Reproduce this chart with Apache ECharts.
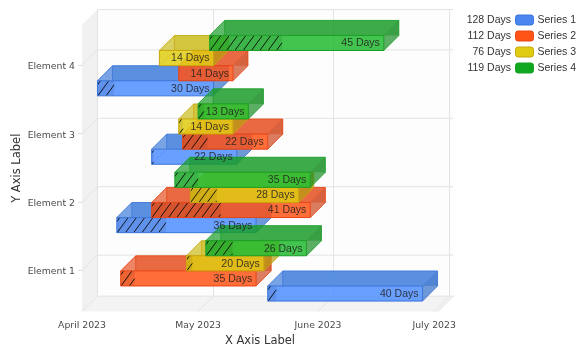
<!DOCTYPE html>
<html>
<head>
<meta charset="utf-8">
<style>
  html, body { margin: 0; padding: 0; background: #fff; }
  #chart { width: 586px; height: 352px; }
</style>
<script src="https://cdn.jsdelivr.net/npm/echarts@6/dist/echarts.min.js"></script>
</head>
<body>
<div id="chart"></div>
<script>
var categories = ['Element 1', 'Element 2', 'Element 3', 'Element 4']
var monthTicks = ['2023-04-01', '2023-05-01', '2023-06-01', '2023-07-01']
var monthLabels = ['April 2023', 'May 2023', 'June 2023', 'July 2023']
var seriesNames = ['Series 1', 'Series 2', 'Series 3', 'Series 4']

// start date, length in days and hatched (done) days per element
var series1Start = ['2023-05-19', '2023-04-10', '2023-04-19', '2023-04-05']
var series1Days = [40, 36, 22, 30]
var series1Done = [2.2, 12.7, 0.5, 4.3]

var series2Start = ['2023-04-11', '2023-04-19', '2023-04-27', '2023-04-26']
var series2Days = [35, 41, 22, 14]
var series2Done = [3.6, 17.8, 6.4, 0]

var series3Start = ['2023-04-28', '2023-04-29', '2023-04-26', '2023-04-21']
var series3Days = [20, 28, 14, 14]
var series3Done = [1.5, 6.8, 1.1, 0]

var series4Start = ['2023-05-03', '2023-04-25', '2023-05-01', '2023-05-04']
var series4Days = [26, 35, 13, 45]
var series4Done = [6.9, 6, 1.5, 18.7]

var starts = [series1Start, series2Start, series3Start, series4Start]
var lengths = [series1Days, series2Days, series3Days, series4Days]
var dones = [series1Done, series2Done, series3Done, series4Done]

var legendColors = ['#4a85f0', '#ff5416', '#e0cc12', '#10a81e']
var frontColors = ['#4f8eff', '#ff5416', '#e0cc12', '#22ba30']
var topColors = ['#3f7ddb', '#e65021', '#cbbc1c', '#1b9c2a']
var sideColors = ['#306ec8', '#ca461c', '#b5a010', '#188c24']
var edgeColors = ['#3a74d8', '#e84414', '#c9a80e', '#1a9e28']

var DAY = 86400000
var WALL_DEPTH = 15.4
var BAR_DEPTH = 15
var BAR_STEP = 0.2208

function toTime(s) {
  var p = s.split('-')
  return new Date(+p[0], +p[1] - 1, +p[2]).getTime()
}

var xMin = toTime('2023-04-01')
var xMax = toTime('2023-07-02')
var yMin = -0.599
var yMax = 3.589
var tickTimes = monthTicks.map(toTime)

function line(x1, y1, x2, y2, color, width, opacity) {
  return {
    type: 'line',
    shape: { x1: x1, y1: y1, x2: x2, y2: y2 },
    style: { stroke: color, lineWidth: width || 1, opacity: opacity === undefined ? 1 : opacity }
  }
}

function poly(points, fill, opacity) {
  return {
    type: 'polygon',
    shape: { points: points },
    style: { fill: fill, opacity: opacity === undefined ? 1 : opacity }
  }
}

function barMid(el, s) {
  return el - 0.005 + (s - 1.5) * BAR_STEP
}

// the two walls and the floor, everything is hung on the front plane of the grid
function renderFrame(params, api) {
  var d = WALL_DEPTH
  var bl = api.coord([xMin, yMin])
  var tr = api.coord([xMax, yMax])
  var left = bl[0]
  var right = tr[0]
  var bottom = bl[1]
  var top = tr[1]
  var gridColor = '#e3e3e3'
  var children = [
    {
      type: 'rect',
      shape: { x: left + d, y: top - d, width: right - left, height: bottom - top },
      style: { fill: '#fdfdfd' }
    },
    poly([[left, top], [left + d, top - d], [left + d, bottom - d], [left, bottom]], '#f1f1f1'),
    poly([[left, bottom], [left + d, bottom - d], [right + d, bottom - d], [right, bottom]], '#f3f3f3'),
    line(left + d, top - d, right + d, top - d, gridColor),
    line(left + d, bottom - d, right + d, bottom - d, gridColor),
    line(right, bottom, right + d, bottom - d, gridColor)
  ]
  tickTimes.forEach(function(t) {
    var x = api.coord([t, 0])[0]
    children.push(line(x + d, top - d, x + d, bottom - d, gridColor))
    children.push(line(x, bottom, x + d, bottom - d, gridColor))
  })
  categories.forEach(function(c, i) {
    var y = api.coord([xMin, i])[1]
    children.push(line(left + d, y - d, right + d, y - d, gridColor))
    children.push(line(left, y, left + d, y - d, gridColor))
  })
  return { type: 'group', children: children }
}

// one 3d box per data row: back face, top, side, front and hatch
function renderBar(params, api) {
  var s = params.seriesIndex - 1
  var mid = barMid(api.value(0), s)
  var p0 = api.coord([api.value(1), mid + BAR_STEP / 2])
  var p1 = api.coord([api.value(2), mid - BAR_STEP / 2])
  var pd = api.coord([api.value(3), mid])
  var x = p0[0]
  var y = p0[1]
  var w = p1[0] - p0[0]
  var h = p1[1] - p0[1]
  var d = BAR_DEPTH
  var edge = edgeColors[s]
  var hatchEnd = pd[0]

  var children = [
    {
      type: 'rect',
      shape: { x: x + d, y: y - d, width: w, height: h },
      style: { fill: topColors[s], opacity: 0.5 }
    },
    poly([[x, y], [x + d, y - d], [x + w + d, y - d], [x + w, y]], topColors[s], 0.7),
    poly([[x + w, y], [x + w + d, y - d], [x + w + d, y + h - d], [x + w, y + h]], sideColors[s], 0.7),
    {
      type: 'polyline',
      shape: { points: [[x, y], [x + d, y - d], [x + w + d, y - d], [x + w + d, y + h - d], [x + w, y + h]] },
      style: { fill: 'none', stroke: edge, lineWidth: 1, opacity: 0.85 }
    },
    line(x + w, y, x + w + d, y - d, edge, 1, 0.5),
    line(x + d, y - d, x + d, y, edge, 1, 0.7),
    {
      type: 'rect',
      shape: { x: x, y: y, width: w, height: h },
      style: { fill: frontColors[s], opacity: 0.85 }
    },
    line(x, y + h, x + d, y + h - d, edge, 1, 0.25)
  ]

  if (hatchEnd > x + 0.5) {
    children.push({
      type: 'rect',
      shape: { x: x, y: y, width: hatchEnd - x, height: h },
      style: { fill: '#000', opacity: 0.08 }
    })
    // diagonal strokes cut by hand to the done part of the front face
    var slope = 11
    for (var b = x - slope + 3; b < hatchEnd; b += 8.3) {
      var ax = b
      var ay = y + h
      var bx = b + slope
      var by = y
      if (ax < x) {
        ay = y + h - (x - ax) / slope * h
        ax = x
      }
      if (bx > hatchEnd) {
        by = y + (bx - hatchEnd) / slope * h
        bx = hatchEnd
      }
      children.push(line(ax, ay, bx, by, '#000', 1, 0.85))
    }
  }

  children.push({
    type: 'rect',
    shape: { x: x, y: y, width: w, height: h },
    style: { fill: 'none', stroke: edge, lineWidth: 1 }
  })
  return { type: 'group', children: children }
}

// labels sit above every box, so they get their own series
function renderLabel(params, api) {
  var p = api.coord([api.value(2), barMid(api.value(0), api.value(1))])
  return {
    type: 'text',
    style: {
      x: p[0] - 4,
      y: p[1] + 0.5,
      text: api.value(3) + ' Days',
      align: 'right',
      verticalAlign: 'middle',
      fill: '#222',
      opacity: 0.85,
      font: '10.5px "Liberation Sans"'
    }
  }
}

var chartSeries = [{
  type: 'custom',
  silent: true,
  clip: false,
  z: 1,
  renderItem: renderFrame,
  encode: { x: 0, y: 1 },
  data: [[xMin, 0]]
}]

var labelRows = []
seriesNames.forEach(function(name, s) {
  chartSeries.push({
    name: name,
    type: 'custom',
    silent: true,
    clip: false,
    z: 2 + s,
    renderItem: renderBar,
    encode: { x: [1, 2], y: 0 },
    itemStyle: { color: legendColors[s] },
    data: categories.map(function(c, i) {
      var t = toTime(starts[s][i])
      var end = t + lengths[s][i] * DAY
      labelRows.push([i, s, end, lengths[s][i]])
      return [i, t, end, t + dones[s][i] * DAY]
    })
  })
})

chartSeries.push({
  type: 'custom',
  silent: true,
  clip: false,
  z: 10,
  renderItem: renderLabel,
  encode: { x: 2, y: 0 },
  data: labelRows
})

var totalTexts = seriesNames.map(function(name, s) {
  var total = lengths[s].reduce(function(a, b) { return a + b }, 0)
  return {
    type: 'text',
    right: 586 - 511,
    top: 15 + s * 16,
    style: { text: total + ' Days', fill: '#333', font: '10.5px "Liberation Sans"' }
  }
})

var chart = echarts.init(document.getElementById('chart'), null, { renderer: 'canvas' })
chart.setOption({
  animation: false,
  textStyle: { fontFamily: 'Noto Sans' },
  grid: { left: 82, right: 148, top: 25, bottom: 40.5, containLabel: false, outerBoundsMode: 'none' },
  legend: {
    orient: 'vertical',
    left: 510,
    top: 9.5,
    itemWidth: 18,
    itemHeight: 10,
    itemGap: 5,
    icon: 'roundRect',
    selectedMode: false,
    textStyle: { fontFamily: 'Liberation Sans', fontSize: 10.5, color: '#333', padding: [0, 0, 0, -1] },
    data: seriesNames.map(function(name, s) {
      return { name: name, itemStyle: { color: legendColors[s], borderColor: edgeColors[s], borderWidth: 1 } }
    })
  },
  xAxis: {
    type: 'value',
    min: xMin,
    max: xMax,
    name: 'X Axis Label',
    nameLocation: 'middle',
    nameMoveOverlap: false,
    nameGap: 23.5,
    nameTextStyle: { fontFamily: 'DejaVu Sans', fontSize: 11.5, color: '#333' },
    axisLine: { show: true, lineStyle: { color: '#e3e3e3' } },
    axisTick: { show: true, length: 4, customValues: tickTimes, lineStyle: { color: '#dcdcdc' } },
    splitLine: { show: false },
    axisLabel: {
      customValues: tickTimes,
      margin: 10,
      fontFamily: 'DejaVu Sans',
      fontSize: 9.3,
      color: '#4a4a4a',
      hideOverlap: false,
      showMinLabel: true,
      showMaxLabel: true,
      formatter: function(v) {
        return monthLabels[tickTimes.indexOf(v)]
      }
    }
  },
  yAxis: {
    type: 'value',
    min: yMin,
    max: yMax,
    name: 'Y Axis Label',
    nameLocation: 'middle',
    nameMoveOverlap: false,
    nameGap: 59,
    nameTextStyle: { fontFamily: 'DejaVu Sans', fontSize: 11.5, color: '#333' },
    axisLine: { show: false },
    axisTick: { show: true, length: 4, customValues: [0, 1, 2, 3], lineStyle: { color: '#dcdcdc' } },
    splitLine: { show: false },
    axisLabel: {
      customValues: [0, 1, 2, 3],
      margin: 7,
      verticalAlign: 'top',
      lineHeight: 3,
      fontFamily: 'DejaVu Sans',
      fontSize: 9.3,
      color: '#4a4a4a',
      formatter: function(v) {
        return categories[v]
      }
    }
  },
  graphic: totalTexts,
  series: chartSeries
})
</script>
</body>
</html>
